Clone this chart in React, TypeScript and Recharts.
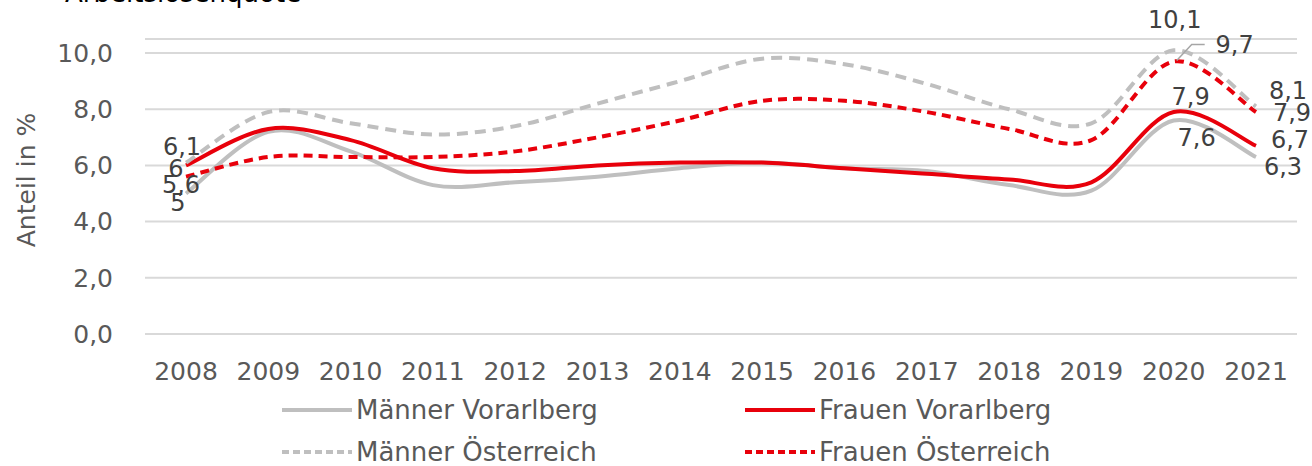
import React from "react";
import { LineChart, Line, XAxis, YAxis, CartesianGrid, LabelList } from "recharts";

const years = ["2008", "2009", "2010", "2011", "2012", "2013", "2014", "2015", "2016", "2017", "2018", "2019", "2020", "2021"];
const maennerVorarlberg = [5.0, 7.2, 6.5, 5.3, 5.4, 5.6, 5.9, 6.1, 5.9, 5.8, 5.3, 5.1, 7.6, 6.3];
const frauenVorarlberg = [6.0, 7.3, 6.9, 5.9, 5.8, 6.0, 6.1, 6.1, 5.9, 5.7, 5.5, 5.4, 7.9, 6.7];
const maennerOesterreich = [6.1, 7.9, 7.5, 7.1, 7.4, 8.2, 9.0, 9.8, 9.6, 8.9, 8.0, 7.5, 10.1, 8.1];
const frauenOesterreich = [5.6, 6.3, 6.3, 6.3, 6.5, 7.0, 7.6, 8.3, 8.3, 7.9, 7.3, 6.9, 9.7, 7.9];
const yTicks = [0, 2, 4, 6, 8, 10];

const GREY = "#bfbfbf";
const RED = "#e8000b";
const FONT = "'DejaVu Sans', sans-serif";

const data = years.map((year, i) => ({
  year,
  mv: maennerVorarlberg[i],
  fv: frauenVorarlberg[i],
  mo: maennerOesterreich[i],
  fo: frauenOesterreich[i],
}));

const series = [
  { key: "mv", name: "Männer Vorarlberg", color: GREY, dash: undefined, legendDash: undefined },
  { key: "fv", name: "Frauen Vorarlberg", color: RED, dash: undefined, legendDash: undefined },
  { key: "mo", name: "Männer Österreich", color: GREY, dash: "11 7", legendDash: "7 4" },
  { key: "fo", name: "Frauen Österreich", color: RED, dash: "9 6", legendDash: "7 4" },
];

// label offsets (text centre relative to point), only at labelled years
const labelOffsets: Record<string, Record<number, [number, number]>> = {
  mv: { 0: [-8, 9], 12: [23, 18], 13: [27, 10] },
  fv: { 0: [-10, 4], 12: [17, -15], 13: [34, -6] },
  mo: { 0: [-4, -16], 12: [1, -30], 13: [32, -15] },
  fo: { 0: [-5, 8], 12: [61, -16], 13: [36, 1] },
};

const fmt = (v: number) => String(v).replace(".", ",");

// Excel-like smoothed line (Catmull-Rom through points)
const excelCurve = (context: any) => {
  let pts: number[][] = [];
  return {
    areaStart() {},
    areaEnd() {},
    lineStart() {
      pts = [];
    },
    point(x: number, y: number) {
      pts.push([+x, +y]);
    },
    lineEnd() {
      const n = pts.length;
      if (!n) return;
      context.moveTo(pts[0][0], pts[0][1]);
      for (let i = 0; i < n - 1; i++) {
        const p0 = pts[i - 1] || pts[i];
        const p1 = pts[i];
        const p2 = pts[i + 1];
        const p3 = pts[i + 2] || p2;
        context.bezierCurveTo(
          p1[0] + (p2[0] - p0[0]) / 6,
          p1[1] + (p2[1] - p0[1]) / 6,
          p2[0] - (p3[0] - p1[0]) / 6,
          p2[1] - (p3[1] - p1[1]) / 6,
          p2[0],
          p2[1]
        );
      }
    },
  };
};

const makeLabel = (key: string) => (props: any) => {
  const { x, y, value, index } = props;
  const off = labelOffsets[key][index];
  if (!off || x == null || y == null) return null;
  const lx = x + off[0];
  const ly = y + off[1];
  return (
    <g key={`${key}-${index}`}>
      {key === "fo" && index === 12 && (
        <polyline
          points={`${x + 3},${y - 1} ${x + 18},${y - 17} ${x + 31},${y - 17}`}
          fill="none"
          stroke="#a6a6a6"
          strokeWidth={1.5}
        />
      )}
      <text x={lx} y={ly} textAnchor="middle" dominantBaseline="central" fontSize={24} fill="#404040" fontFamily={FONT}>
        {fmt(value)}
      </text>
    </g>
  );
};

function LegendBox() {
  const cols = [282, 745];
  const rows = [410, 452];
  return (
    <svg width={1312} height={466} style={{ position: "absolute", left: 0, top: 0, pointerEvents: "none" }}>
      {series.map((s, i) => {
        const cx = cols[i % 2];
        const cy = rows[Math.floor(i / 2)];
        return (
          <g key={s.key}>
            <line x1={cx} x2={cx + 70} y1={cy} y2={cy} stroke={s.color} strokeWidth={4} strokeDasharray={s.legendDash} />
            <text x={cx + 74} y={cy} dominantBaseline="central" fontSize={26} fill="#595959" fontFamily={FONT}>
              {s.name}
            </text>
          </g>
        );
      })}
      <text x={26} y={180} transform="rotate(-90 26 180)" textAnchor="middle" dominantBaseline="central" fontSize={25} fill="#595959" fontFamily={FONT}>
        Anteil in %
      </text>
      <text x={65} y={2} fontSize={26} fill="#000" fontFamily={FONT}>
        Arbeitslosenquote
      </text>
    </svg>
  );
}

export default function App() {
  return (
    <div style={{ position: "absolute", left: 0, top: 0, width: 1312, height: 466, background: "#fff" }}>
      <LineChart
        width={1312}
        height={466}
        data={data}
        margin={{ top: 39, right: 15, left: 55, bottom: 82 }}
        style={{ fontFamily: FONT }}
      >
        <CartesianGrid vertical={false} stroke="#d9d9d9" strokeWidth={2} />
        <XAxis
          dataKey="year"
          padding={{ left: 41, right: 41 }}
          tickLine={false}
          axisLine={false}
          tickSize={0}
          tickMargin={28}
          height={50}
          interval={0}
          tick={{ fontSize: 25, fill: "#595959" }}
        />
        <YAxis
          width={90}
          domain={[0, 10.5]}
          ticks={yTicks}
          tickFormatter={(v: number) => v.toFixed(1).replace(".", ",")}
          tickLine={false}
          axisLine={false}
          tickSize={0}
          tickMargin={32}
          tick={{ fontSize: 25, fill: "#595959" }}
        />
        {series.map((s) => (
          <Line
            key={s.key}
            dataKey={s.key}
            name={s.name}
            type={excelCurve as any}
            stroke={s.color}
            strokeWidth={4}
            strokeDasharray={s.dash}
            dot={false}
            activeDot={false}
            isAnimationActive={false}
          >
            <LabelList dataKey={s.key} content={makeLabel(s.key)} />
          </Line>
        ))}
      </LineChart>
      <LegendBox />
    </div>
  );
}
